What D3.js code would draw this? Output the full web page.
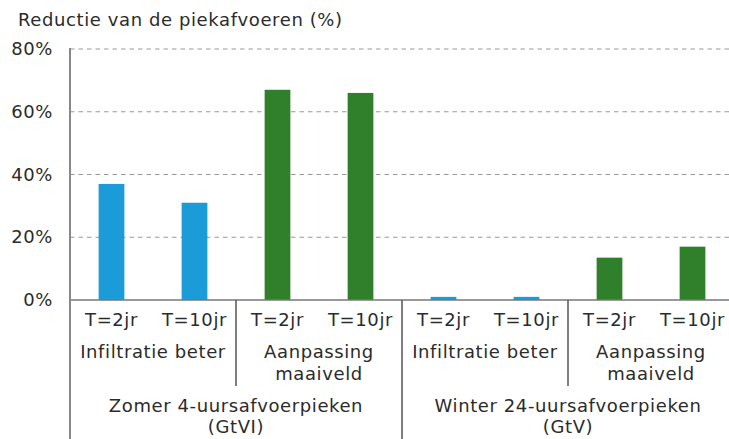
<!DOCTYPE html>
<html><head><meta charset="utf-8">
<script src="https://cdn.jsdelivr.net/npm/d3@7"></script>
<style>
body{margin:0;background:#fff;}
text{font-family:"DejaVu Sans",Verdana,sans-serif;fill:#2b2b2b;letter-spacing:0.6px;}
</style></head>
<body>
<svg id="c" width="729" height="439"></svg>
<script>
const title = "Reductie van de piekafvoeren (%)";
const categories = ["T=2jr","T=10jr","T=2jr","T=10jr","T=2jr","T=10jr","T=2jr","T=10jr"];
const values = [37, 31, 67, 66, 1, 1, 13.5, 17];
const measures = ["infil","infil","maai","maai","infil","infil","maai","maai"];
const subgroupLabels = [["Infiltratie beter"],["Aanpassing","maaiveld"],["Infiltratie beter"],["Aanpassing","maaiveld"]];
const groupLabels = [["Zomer 4-uursafvoerpieken","(GtVI)"],["Winter 24-uursafvoerpieken","(GtV)"]];
const yTicks = [0, 20, 40, 60, 80];
const colors = {infil:"#1b9bd7", maai:"#2f7f2b"};

const svg = d3.select("#c");
const x0 = 70, x1 = 734, y0 = 300, yTop = 49;
const idx = d3.range(categories.length);
const x = d3.scaleBand().domain(idx).range([x0, x1]).paddingInner(0.69).paddingOuter(0.345);
const y = d3.scaleLinear().domain([0, 80]).range([y0, yTop]);
const step = x.step();

// title
svg.append("text").attr("x", 18).attr("y", 26).attr("font-size", 18).text(title);

// grid
svg.selectAll(".grid").data(yTicks.filter(d => d > 0)).join("line")
  .attr("x1", x0).attr("x2", 729).attr("y1", d => y(d)).attr("y2", d => y(d))
  .attr("stroke", "#999").attr("stroke-width", 1.2).attr("stroke-dasharray", "4.5,4");

// y labels
svg.selectAll(".yl").data(yTicks).join("text")
  .attr("x", 53).attr("y", d => y(d) + 6).attr("text-anchor", "end").attr("font-size", 18)
  .text(d => d + "%");

// bars
svg.selectAll(".bar").data(idx).join("rect")
  .attr("x", i => x(i)).attr("width", x.bandwidth())
  .attr("y", i => y(values[i])).attr("height", i => y(0) - y(values[i]))
  .attr("fill", i => colors[measures[i]]);

// baseline
svg.append("line").attr("x1", x0).attr("x2", 729).attr("y1", y0).attr("y2", y0)
  .attr("stroke", "#777").attr("stroke-width", 1.5);
// left axis
svg.append("line").attr("x1", x0).attr("x2", x0).attr("y1", yTop - 1).attr("y2", 439)
  .attr("stroke", "#888").attr("stroke-width", 2);

// category labels
svg.selectAll(".cl").data(idx).join("text")
  .attr("x", i => x(i) + x.bandwidth() / 2).attr("y", 326).attr("text-anchor", "middle")
  .attr("font-size", 18).text(i => categories[i]);

// subgroup labels & separators
subgroupLabels.forEach((lines, k) => {
  const cx = x0 + step * (2 * k + 1);
  lines.forEach((l, j) => svg.append("text").attr("x", cx).attr("y", 358 + j * 22)
    .attr("text-anchor", "middle").attr("font-size", 18).text(l));
  if (k % 2 === 1 && k < subgroupLabels.length - 1) {
    svg.append("line").attr("x1", x0 + step * 2 * (k + 1)).attr("x2", x0 + step * 2 * (k + 1))
      .attr("y1", y0).attr("y2", 439).attr("stroke", "#555").attr("stroke-width", 1.5);
  } else if (k % 2 === 0) {
    svg.append("line").attr("x1", x0 + step * 2 * (k + 1)).attr("x2", x0 + step * 2 * (k + 1))
      .attr("y1", y0).attr("y2", 386).attr("stroke", "#555").attr("stroke-width", 1.5);
  }
});

// group labels
groupLabels.forEach((lines, g) => {
  const cx = x0 + step * (4 * g + 2);
  lines.forEach((l, j) => svg.append("text").attr("x", cx).attr("y", 412 + j * 21)
    .attr("text-anchor", "middle").attr("font-size", 18).text(l));
});
</script>
</body></html>
